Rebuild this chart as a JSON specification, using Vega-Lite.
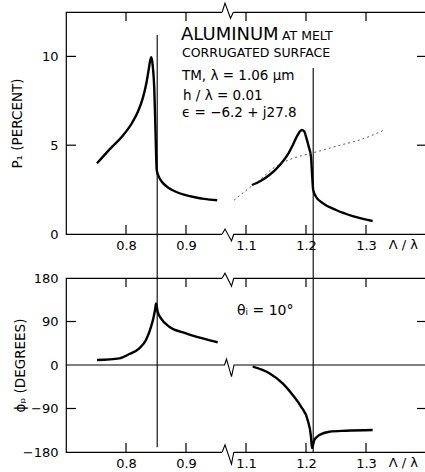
{
  "$schema": "https://vega.github.io/schema/vega-lite/v6.json",
  "padding": {"left": 9, "top": 0, "right": 0, "bottom": 0},
  "spacing": 44,
  "bounds": "flush",
  "config": {
    "view": {"stroke": "black", "strokeWidth": 1.2},
    "axis": {"domain": false, "grid": false, "ticks": false, "tickSize": 0, "labelFont": "DejaVu Sans", "labelFontSize": 13, "labelColor": "black", "titleFont": "DejaVu Sans", "titleFontSize": 13.5, "titleFontWeight": "normal", "titleColor": "black"},
    "text": {"font": "DejaVu Sans", "color": "black"}
  },
  "datasets": {
    "p_curve": [
      {"x": 0.7517, "y": 3.98, "seg": "a"}, {"x": 0.775, "y": 4.85, "seg": "a"}, {"x": 0.795, "y": 5.55, "seg": "a"}, {"x": 0.81, "y": 6.25, "seg": "a"}, {"x": 0.82, "y": 6.9, "seg": "a"}, {"x": 0.828, "y": 7.65, "seg": "a"}, {"x": 0.834, "y": 8.5, "seg": "a"}, {"x": 0.838, "y": 9.3, "seg": "a"}, {"x": 0.8405, "y": 9.8, "seg": "a"}, {"x": 0.8422, "y": 9.95, "seg": "a"}, {"x": 0.8445, "y": 9.5, "seg": "a"}, {"x": 0.8472, "y": 8.1, "seg": "a"}, {"x": 0.8488, "y": 6.25, "seg": "a"}, {"x": 0.85, "y": 4.7, "seg": "a"}, {"x": 0.8512, "y": 3.6, "seg": "a"}, {"x": 0.855, "y": 3.2, "seg": "a"}, {"x": 0.862, "y": 2.85, "seg": "a"}, {"x": 0.872, "y": 2.58, "seg": "a"}, {"x": 0.885, "y": 2.35, "seg": "a"}, {"x": 0.898, "y": 2.2, "seg": "a"}, {"x": 0.915, "y": 2.07, "seg": "a"}, {"x": 0.93, "y": 1.98, "seg": "a"}, {"x": 0.952, "y": 1.9, "seg": "a"},
      {"x": 1.11, "y": 2.76, "seg": "b"}, {"x": 1.125, "y": 3.0, "seg": "b"}, {"x": 1.139, "y": 3.32, "seg": "b"}, {"x": 1.15, "y": 3.65, "seg": "b"}, {"x": 1.161, "y": 4.07, "seg": "b"}, {"x": 1.17, "y": 4.5, "seg": "b"}, {"x": 1.178, "y": 5.01, "seg": "b"}, {"x": 1.186, "y": 5.57, "seg": "b"}, {"x": 1.193, "y": 5.86, "seg": "b"}, {"x": 1.197, "y": 5.78, "seg": "b"}, {"x": 1.2, "y": 5.48, "seg": "b"}, {"x": 1.2045, "y": 4.92, "seg": "b"}, {"x": 1.2083, "y": 4.35, "seg": "b"}, {"x": 1.21, "y": 3.43, "seg": "b"}, {"x": 1.212, "y": 2.48, "seg": "b"}, {"x": 1.2167, "y": 2.1, "seg": "b"}, {"x": 1.2278, "y": 1.74, "seg": "b"}, {"x": 1.25, "y": 1.35, "seg": "b"}, {"x": 1.2778, "y": 1.01, "seg": "b"}, {"x": 1.311, "y": 0.73, "seg": "b"}
    ],
    "p_dotted": [
      {"x": 1.08, "y": 1.9}, {"x": 1.1, "y": 2.45}, {"x": 1.112, "y": 2.76}, {"x": 1.125, "y": 3.1}, {"x": 1.145, "y": 3.7}, {"x": 1.16, "y": 4.0}, {"x": 1.178, "y": 4.26}, {"x": 1.208, "y": 4.54}, {"x": 1.233, "y": 4.77}, {"x": 1.26, "y": 5.03}, {"x": 1.289, "y": 5.29}, {"x": 1.328, "y": 5.82}
    ],
    "p_rules": [{"x": 0.852, "y": 11.2, "y2": -2.5}, {"x": 1.212, "y": 9.35, "y2": -2.5}],
    "p_cover": [{"x": 0.962, "x2": 1.078, "y": 12.5}, {"x": 0.962, "x2": 1.078, "y": 0}],
    "p_zz": [
      {"x": 0.962, "y": 12.5, "g": "t"}, {"x": 0.99, "y": 13.0, "g": "t"}, {"x": 1.045, "y": 12.15, "g": "t"}, {"x": 1.075, "y": 12.5, "g": "t"},
      {"x": 0.962, "y": 0, "g": "b"}, {"x": 0.99, "y": 0.28, "g": "b"}, {"x": 1.055, "y": -0.39, "g": "b"}, {"x": 1.078, "y": 0, "g": "b"}
    ],
    "p_xt_bottom": [{"x": 0.8, "y": 0}, {"x": 0.9, "y": 0}, {"x": 1.1, "y": 0}, {"x": 1.2, "y": 0}, {"x": 1.3, "y": 0}],
    "p_xt_top": [{"x": 0.8, "y": 12.5}, {"x": 0.9, "y": 12.5}, {"x": 1.1, "y": 12.5}, {"x": 1.2, "y": 12.5}, {"x": 1.3, "y": 12.5}],
    "p_yt_left": [{"x": 0.7, "y": 5}, {"x": 0.7, "y": 10}],
    "p_yt_right": [{"x": 1.4, "y": 5}, {"x": 1.4, "y": 10}],
    "f_curve": [
      {"x": 0.7517, "y": 10.3, "seg": "a"}, {"x": 0.7889, "y": 13.8, "seg": "a"}, {"x": 0.8056, "y": 22.8, "seg": "a"}, {"x": 0.8222, "y": 34.5, "seg": "a"}, {"x": 0.8333, "y": 51.7, "seg": "a"}, {"x": 0.8417, "y": 79, "seg": "a"}, {"x": 0.8462, "y": 100, "seg": "a"}, {"x": 0.8488, "y": 117, "seg": "a"}, {"x": 0.85, "y": 127.6, "seg": "a"}, {"x": 0.8528, "y": 110, "seg": "a"}, {"x": 0.8583, "y": 96.6, "seg": "a"}, {"x": 0.8722, "y": 79, "seg": "a"}, {"x": 0.9, "y": 65.6, "seg": "a"}, {"x": 0.9278, "y": 55, "seg": "a"}, {"x": 0.9528, "y": 47, "seg": "a"},
      {"x": 1.1111, "y": -3.4, "seg": "b"}, {"x": 1.1389, "y": -17, "seg": "b"}, {"x": 1.1611, "y": -38, "seg": "b"}, {"x": 1.1778, "y": -62, "seg": "b"}, {"x": 1.1917, "y": -86, "seg": "b"}, {"x": 1.2028, "y": -114, "seg": "b"}, {"x": 1.2083, "y": -148, "seg": "b"}, {"x": 1.21, "y": -172, "seg": "b"}, {"x": 1.2139, "y": -155, "seg": "b"}, {"x": 1.2222, "y": -145, "seg": "b"}, {"x": 1.2389, "y": -138, "seg": "b"}, {"x": 1.2667, "y": -136, "seg": "b"}, {"x": 1.3111, "y": -134.5, "seg": "b"}
    ],
    "f_zero": [
      {"x": 0.7, "y": 0}, {"x": 0.985, "y": 0}, {"x": 1.005, "y": 12}, {"x": 1.055, "y": -24}, {"x": 1.08, "y": 0}, {"x": 1.4, "y": 0}
    ],
    "f_rules": [{"x": 0.852, "y": 180, "y2": -170}, {"x": 1.212, "y": 180, "y2": -180}],
    "f_cover": [{"x": 0.962, "x2": 1.078, "y": 180}, {"x": 0.962, "x2": 1.078, "y": -180}],
    "f_zz": [
      {"x": 0.962, "y": 180, "g": "t"}, {"x": 0.99, "y": 190, "g": "t"}, {"x": 1.055, "y": 163, "g": "t"}, {"x": 1.078, "y": 180, "g": "t"},
      {"x": 0.962, "y": -180, "g": "b"}, {"x": 0.99, "y": -165, "g": "b"}, {"x": 1.055, "y": -205, "g": "b"}, {"x": 1.078, "y": -180, "g": "b"}
    ],
    "f_xt_bottom": [{"x": 0.8, "y": -180}, {"x": 0.9, "y": -180}, {"x": 1.1, "y": -180}, {"x": 1.2, "y": -180}, {"x": 1.3, "y": -180}],
    "f_xt_top": [{"x": 0.8, "y": 180}, {"x": 0.9, "y": 180}, {"x": 1.1, "y": 180}, {"x": 1.2, "y": 180}, {"x": 1.3, "y": 180}],
    "f_yt_left": [{"x": 0.7, "y": -90}, {"x": 0.7, "y": 90}],
    "f_yt_right": [{"x": 1.4, "y": -90}, {"x": 1.4, "y": 90}]
  },
  "vconcat": [
    {
      "width": 360,
      "height": 222,
      "encoding": {
        "x": {"field": "x", "type": "quantitative", "scale": {"domain": [0.7, 0.96, 1.08, 1.4], "range": [0, 156, 168, 360], "nice": false, "zero": false}, "axis": {"orient": "bottom", "values": [0.8, 0.9, 1.1, 1.2, 1.3], "format": ".1f", "title": null, "labelPadding": 5}},
        "y": {"field": "y", "type": "quantitative", "scale": {"domain": [0, 12.5], "nice": false, "zero": false}, "axis": {"orient": "left", "values": [0, 5, 10], "title": "P₁ (PERCENT)", "labelPadding": 8, "titleX": -42}}
      },
      "layer": [
        {
          "data": {"name": "p_curve"},
          "mark": {"type": "line", "color": "black", "strokeWidth": 2.4, "interpolate": "monotone"},
          "encoding": {"detail": {"field": "seg"}}
        },
        {
          "data": {"name": "p_dotted"},
          "mark": {"type": "line", "color": "#444", "strokeWidth": 0.9, "strokeDash": [2, 3], "interpolate": "monotone"}
        },
        {
          "data": {"name": "p_rules"},
          "mark": {"type": "rule", "color": "black", "strokeWidth": 1.1},
          "encoding": {"y2": {"field": "y2"}}
        },
        {
          "data": {"name": "p_xt_bottom"},
          "mark": {"type": "rule", "color": "black", "strokeWidth": 1.2, "y2Offset": -9},
          "encoding": {"y2": {"field": "y"}}
        },
        {
          "data": {"name": "p_xt_top"},
          "mark": {"type": "rule", "color": "black", "strokeWidth": 1.2, "y2Offset": 9},
          "encoding": {"y2": {"field": "y"}}
        },
        {
          "data": {"name": "p_yt_left"},
          "mark": {"type": "rule", "color": "black", "strokeWidth": 1.2, "x2Offset": 10},
          "encoding": {"x2": {"field": "x"}}
        },
        {
          "data": {"name": "p_yt_right"},
          "mark": {"type": "rule", "color": "black", "strokeWidth": 1.2, "x2Offset": -9},
          "encoding": {"x2": {"field": "x"}}
        },
        {
          "data": {"name": "p_cover"},
          "mark": {"type": "rule", "color": "white", "strokeWidth": 3.5},
          "encoding": {"x2": {"field": "x2"}}
        },
        {
          "data": {"name": "p_zz"},
          "mark": {"type": "line", "color": "black", "strokeWidth": 1.1},
          "encoding": {"detail": {"field": "g"}}
        },
        {
          "data": {"values": [{"t": "ALUMINUM", "x": 0.8917, "y": 10.92}]},
          "mark": {"type": "text", "align": "left", "baseline": "alphabetic", "fontSize": 18},
          "encoding": {"text": {"field": "t"}}
        },
        {
          "data": {"values": [{"t": "AT MELT", "x": 1.16, "y": 10.92}, {"t": "CORRUGATED SURFACE", "x": 0.8933, "y": 9.97}]},
          "mark": {"type": "text", "align": "left", "baseline": "alphabetic", "fontSize": 12.5},
          "encoding": {"text": {"field": "t"}}
        },
        {
          "data": {"values": [{"t": "TM,  λ = 1.06 μm", "x": 0.8933, "y": 8.67}, {"t": "h / λ = 0.01", "x": 0.895, "y": 7.54}, {"t": "ϵ = −6.2 + j27.8", "x": 0.8933, "y": 6.59}]},
          "mark": {"type": "text", "align": "left", "baseline": "alphabetic", "fontSize": 13.5},
          "encoding": {"text": {"field": "t"}}
        },
        {
          "data": {"values": [{"t": "Λ / λ", "x": 1.338, "y": 0}]},
          "mark": {"type": "text", "align": "left", "baseline": "top", "dy": 5, "fontSize": 13},
          "encoding": {"text": {"field": "t"}}
        }
      ]
    },
    {
      "width": 360,
      "height": 174,
      "encoding": {
        "x": {"field": "x", "type": "quantitative", "scale": {"domain": [0.7, 0.96, 1.08, 1.4], "range": [0, 156, 168, 360], "nice": false, "zero": false}, "axis": {"orient": "bottom", "values": [0.8, 0.9, 1.1, 1.2, 1.3], "format": ".1f", "title": null, "labelPadding": 5}},
        "y": {"field": "y", "type": "quantitative", "scale": {"domain": [-180, 180], "nice": false, "zero": false}, "axis": {"orient": "left", "values": [-180, -90, 0, 90, 180], "title": "ϕₚ (DEGREES)", "labelPadding": 8, "titleX": -39}}
      },
      "layer": [
        {
          "data": {"name": "f_curve"},
          "mark": {"type": "line", "color": "black", "strokeWidth": 2.4, "interpolate": "monotone"},
          "encoding": {"detail": {"field": "seg"}}
        },
        {
          "data": {"name": "f_zero"},
          "mark": {"type": "line", "color": "black", "strokeWidth": 1.1}
        },
        {
          "data": {"name": "f_rules"},
          "mark": {"type": "rule", "color": "black", "strokeWidth": 1.1},
          "encoding": {"y2": {"field": "y2"}}
        },
        {
          "data": {"name": "f_xt_bottom"},
          "mark": {"type": "rule", "color": "black", "strokeWidth": 1.2, "y2Offset": -9},
          "encoding": {"y2": {"field": "y"}}
        },
        {
          "data": {"name": "f_xt_top"},
          "mark": {"type": "rule", "color": "black", "strokeWidth": 1.2, "y2Offset": 9},
          "encoding": {"y2": {"field": "y"}}
        },
        {
          "data": {"name": "f_yt_left"},
          "mark": {"type": "rule", "color": "black", "strokeWidth": 1.2, "x2Offset": 10},
          "encoding": {"x2": {"field": "x"}}
        },
        {
          "data": {"name": "f_yt_right"},
          "mark": {"type": "rule", "color": "black", "strokeWidth": 1.2, "x2Offset": -9},
          "encoding": {"x2": {"field": "x"}}
        },
        {
          "data": {"name": "f_cover"},
          "mark": {"type": "rule", "color": "white", "strokeWidth": 3.5},
          "encoding": {"x2": {"field": "x2"}}
        },
        {
          "data": {"name": "f_zz"},
          "mark": {"type": "line", "color": "black", "strokeWidth": 1.1},
          "encoding": {"detail": {"field": "g"}}
        },
        {
          "data": {"values": [{"t": "θᵢ = 10°", "x": 1.085, "y": 103}]},
          "mark": {"type": "text", "align": "left", "baseline": "alphabetic", "fontSize": 14},
          "encoding": {"text": {"field": "t"}}
        },
        {
          "data": {"values": [{"t": "Λ / λ", "x": 1.338, "y": -180}]},
          "mark": {"type": "text", "align": "left", "baseline": "top", "dy": 5, "fontSize": 13},
          "encoding": {"text": {"field": "t"}}
        }
      ]
    }
  ]
}
